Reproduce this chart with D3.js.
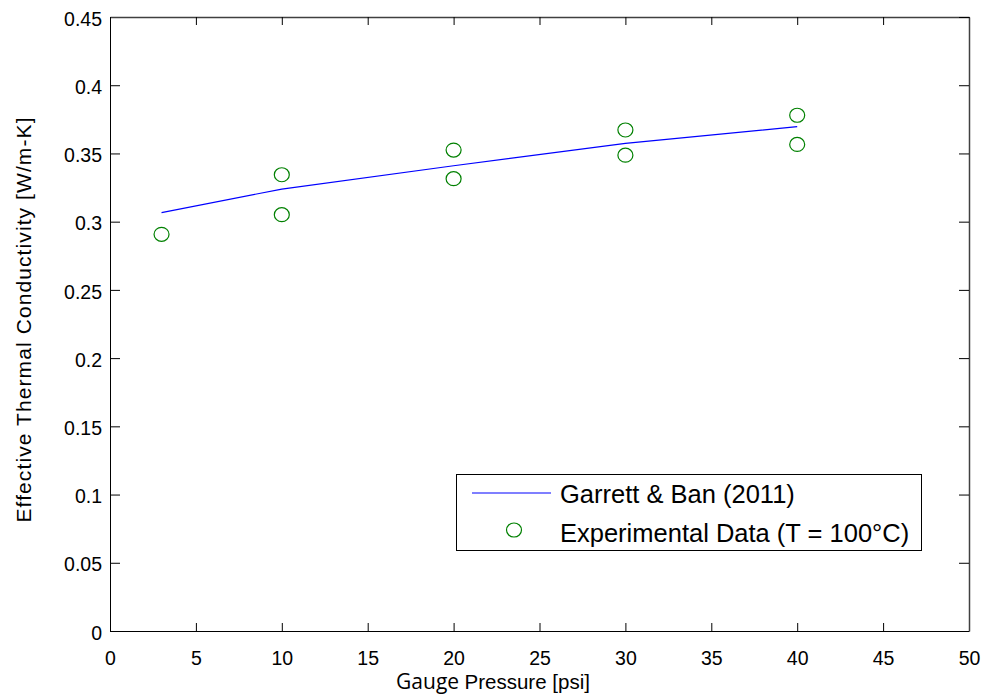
<!DOCTYPE html>
<html>
<head>
<meta charset="utf-8">
<script src="https://cdn.jsdelivr.net/npm/d3@7"></script>
<style>
  body { margin: 0; background: #fff; }
  text { font-family: Arial, "Liberation Sans", sans-serif; }
</style>
</head>
<body>
<svg id="chart" width="987" height="698"></svg>
<script>
// model curve (Garrett & Ban 2011)
var model_pressure = [3, 10, 20, 30, 40];
var model_k = [0.3066, 0.3239, 0.341, 0.3574, 0.3696];

// experimental points, T = 100 C
var exp_pressure = [3, 10, 10, 20, 20, 30, 30, 40, 40];
var exp_k = [0.2907, 0.3344, 0.3051, 0.3525, 0.3315, 0.3672, 0.3487, 0.378, 0.3566];

var x_ticks = [0, 5, 10, 15, 20, 25, 30, 35, 40, 45, 50];
var y_ticks = [0, 0.05, 0.1, 0.15, 0.2, 0.25, 0.3, 0.35, 0.4, 0.45];

var legend_labels = ["Garrett & Ban (2011)", "Experimental Data (T = 100\u00B0C)"];

var svg = d3.select('#chart');
var plot_left = 110, plot_right = 969, plot_top = 17, plot_bottom = 631;

var x = d3.scaleLinear().domain([0, 50]).range([plot_left, plot_right]);
var y = d3.scaleLinear().domain([0, 0.45]).range([plot_bottom, plot_top]);

var fmt = function (d) { return d === 0 ? "0" : String(d); };

// bottom axis, ticks pointing inward
svg.append('g')
  .attr('transform', 'translate(0,' + plot_bottom + ')')
  .call(d3.axisBottom(x).tickValues(x_ticks).tickSize(-8).tickSizeOuter(0).tickPadding(20).tickFormat(fmt))
  .call(function (g) {
    g.select('.domain').attr('stroke', '#000');
    g.selectAll('text').attr('font-size', '19.5px').attr('fill', '#000');
  });

// left axis
svg.append('g')
  .attr('transform', 'translate(' + plot_left + ',0)')
  .call(d3.axisLeft(y).tickValues(y_ticks).tickSize(-10).tickSizeOuter(0).tickPadding(8).tickFormat(fmt))
  .call(function (g) {
    g.select('.domain').attr('stroke', '#000');
    g.selectAll('text').attr('font-size', '19.5px').attr('fill', '#000').attr('dy', '0.42em');
  });

// top and right box edges with mirrored ticks
svg.append('g')
  .attr('transform', 'translate(0,' + plot_top + ')')
  .call(d3.axisTop(x).tickValues(x_ticks).tickSize(-8).tickSizeOuter(0).tickFormat(''))
  .call(function (g) {
    g.select('.domain').attr('stroke', '#404040').attr('stroke-width', 1.5);
  });

svg.append('g')
  .attr('transform', 'translate(' + plot_right + ',0)')
  .call(d3.axisRight(y).tickValues(y_ticks).tickSize(-10).tickSizeOuter(0).tickFormat(''))
  .call(function (g) {
    g.select('.domain').attr('stroke', '#404040').attr('stroke-width', 1.5);
  });

// model line
var line = d3.line()
  .x(function (d, i) { return x(model_pressure[i]); })
  .y(function (d) { return y(d); });

svg.append('path')
  .datum(model_k)
  .attr('d', line)
  .attr('fill', 'none')
  .attr('stroke', '#0000ff')
  .attr('stroke-width', 1.2);

// experimental markers
svg.selectAll('.pt')
  .data(exp_k)
  .enter()
  .append('ellipse')
  .attr('class', 'pt')
  .attr('cx', function (d, i) { return x(exp_pressure[i]); })
  .attr('cy', function (d) { return y(d); })
  .attr('rx', 7.5)
  .attr('ry', 7)
  .attr('fill', 'none')
  .attr('stroke', '#008000')
  .attr('stroke-width', 1.2);

// legend
var legend = svg.append('g');
legend.append('rect')
  .attr('x', 456.5).attr('y', 474.5)
  .attr('width', 465).attr('height', 76)
  .attr('fill', '#fff')
  .attr('stroke', '#000')
  .attr('stroke-width', 1);

legend.append('line')
  .attr('x1', 472).attr('x2', 551)
  .attr('y1', 493).attr('y2', 493)
  .attr('stroke', '#0000ff').attr('stroke-width', 1.2);

legend.append('ellipse')
  .attr('cx', 514).attr('cy', 530)
  .attr('rx', 7.5).attr('ry', 7)
  .attr('fill', 'none').attr('stroke', '#008000').attr('stroke-width', 1.2);

legend.selectAll('.lt')
  .data(legend_labels)
  .enter()
  .append('text')
  .attr('class', 'lt')
  .attr('x', 560)
  .attr('y', function (d, i) { return 503 + i * 39; })
  .attr('font-size', '25.5px')
  .text(function (d) { return d; });

// axis titles
var xlab = svg.append('text')
  .attr('x', 493)
  .attr('y', 689)
  .attr('text-anchor', 'middle')
  .attr('font-size', '20.5px');
xlab.append('tspan').attr('font-family', '"Open Sans", sans-serif').attr('font-size', '21px').text('Gauge ');
xlab.append('tspan').text('Pressure [psi]');

svg.append('text')
  .attr('transform', 'translate(31,320) rotate(-90)')
  .attr('text-anchor', 'middle')
  .attr('font-size', '21px')
  .attr('textLength', 405)
  .attr('lengthAdjust', 'spacing')
  .text('Effective Thermal Conductivity  [W/m-K]');
</script>
</body>
</html>
